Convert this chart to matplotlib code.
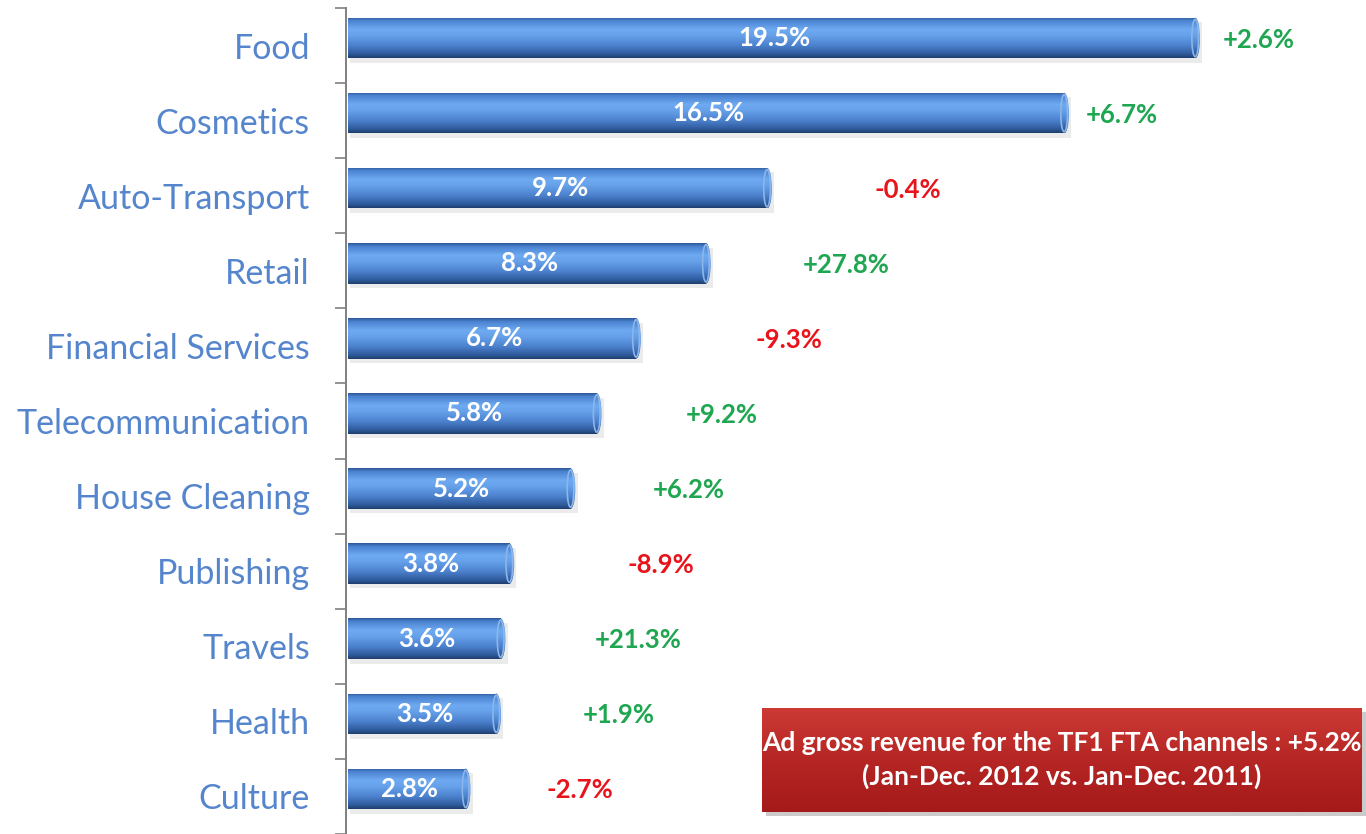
import matplotlib.pyplot as plt
import numpy as np
from matplotlib.colors import LinearSegmentedColormap
from matplotlib.patches import Rectangle, Ellipse

# Share of ad gross revenue by sector and year-on-year change
sectors = ["Food", "Cosmetics", "Auto-Transport", "Retail", "Financial Services",
           "Telecommunication", "House Cleaning", "Publishing", "Travels", "Health", "Culture"]
share = [19.5, 16.5, 9.7, 8.3, 6.7, 5.8, 5.2, 3.8, 3.6, 3.5, 2.8]
change = [2.6, 6.7, -0.4, 27.8, -9.3, 9.2, 6.2, -8.9, 21.3, 1.9, -2.7]

# x position (centre) of each change label
change_x = [20.85, 17.7, 12.8, 11.4, 10.1, 8.55, 7.8, 7.15, 6.65, 6.2, 5.3]

plt.rcParams['font.family'] = ['Lato', 'DejaVu Sans']

fig = plt.figure(figsize=(13.66, 8.34), dpi=100)
ax = fig.add_axes([346 / 1366, 0, 1 - 346 / 1366, 1 - 8 / 834])

bar_h = 0.54
y_shift = -0.1
cyl = LinearSegmentedColormap.from_list("cyl", [
    (0.0, "#2d5896"), (0.08, "#4a82cf"), (0.3, "#6eaaf2"), (0.45, "#66a1ea"),
    (0.7, "#4b80cc"), (0.9, "#2f5b9c"), (1.0, "#1f3e6e")])
grad = np.linspace(0, 1, 200).reshape(-1, 1)

for i, (v, c, cx) in enumerate(zip(share, change, change_x)):
    yc = i + y_shift
    cap_w = 0.22
    # soft shadow under the bar
    ax.add_patch(Rectangle((0.05, yc - bar_h / 2 + 0.06), v, bar_h, color="#c8c8c8",
                           alpha=0.35, lw=0, zorder=1))
    body = Rectangle((0, yc - bar_h / 2), v - cap_w / 2, bar_h, lw=0, facecolor="none")
    ax.add_patch(body)
    im = ax.imshow(grad, cmap=cyl, aspect="auto", zorder=2,
                   extent=(0, v - cap_w / 2, yc + bar_h / 2, yc - bar_h / 2))
    im.set_clip_path(body)
    cap = Ellipse((v - cap_w / 2, yc), cap_w, bar_h, facecolor="none", lw=0)
    ax.add_patch(cap)
    im2 = ax.imshow(grad, cmap=cyl, aspect="auto", zorder=2,
                    extent=(v - cap_w, v, yc + bar_h / 2, yc - bar_h / 2))
    im2.set_clip_path(cap)
    ax.add_patch(Ellipse((v - cap_w / 2, yc), cap_w * 0.7, bar_h * 0.92, facecolor="none",
                         edgecolor="#8cb6ea", lw=1.2, zorder=3))

    ax.text(v / 2, yc, f"{v:.1f}%", ha="center", va="center", color="white",
            fontsize=18.5, fontweight="bold", zorder=4)
    ax.text(cx, yc + 0.02, f"{c:+.1f}%", ha="center", va="center",
            color="#1ea650" if c >= 0 else "#e8141b",
            fontsize=18.5, fontweight="bold", zorder=4)

ax.set_xlim(-0.05, 23.3)
ax.set_ylim(10.5, -0.5)
ax.set_yticks(range(len(sectors)))
ax.set_yticklabels(sectors, fontsize=24.5, color="#5585cc")
ax.tick_params(axis="y", which="major", length=0, pad=26)
ax.set_yticks(np.arange(-0.5, 11, 1), minor=True)
ax.tick_params(axis="y", which="minor", length=8, width=1.2, color="#808080")
ax.set_xticks([])
for s in ["top", "right", "bottom"]:
    ax.spines[s].set_visible(False)
ax.spines["left"].set_color("#808080")
ax.spines["left"].set_linewidth(1.4)

# summary box
box_ax = fig.add_axes([762 / 1366, 1 - 812 / 834, 600 / 1366, 104 / 834])
box_ax.set_axis_off()
box_ax.set_xlim(0, 1)
box_ax.set_ylim(0, 1)
box_ax.add_patch(Rectangle((0.006, -0.04), 1, 1, color="#999999", alpha=0.5, lw=0,
                           transform=box_ax.transAxes, clip_on=False))
red = LinearSegmentedColormap.from_list("red", ["#cd3a35", "#b52624", "#a51a1a"])
box_ax.imshow(np.linspace(0, 1, 100).reshape(-1, 1), cmap=red, aspect="auto",
              extent=(0, 1, 0, 1), zorder=2)
box_ax.text(0.5, 0.66, "Ad gross revenue for the TF1 FTA channels : +5.2%", ha="center",
            va="center", color="white", fontsize=19, fontweight="bold", zorder=3)
box_ax.text(0.5, 0.34, "(Jan-Dec. 2012 vs. Jan-Dec. 2011)", ha="center",
            va="center", color="white", fontsize=19, fontweight="bold", zorder=3)

fig.savefig("out.png", dpi=100)
